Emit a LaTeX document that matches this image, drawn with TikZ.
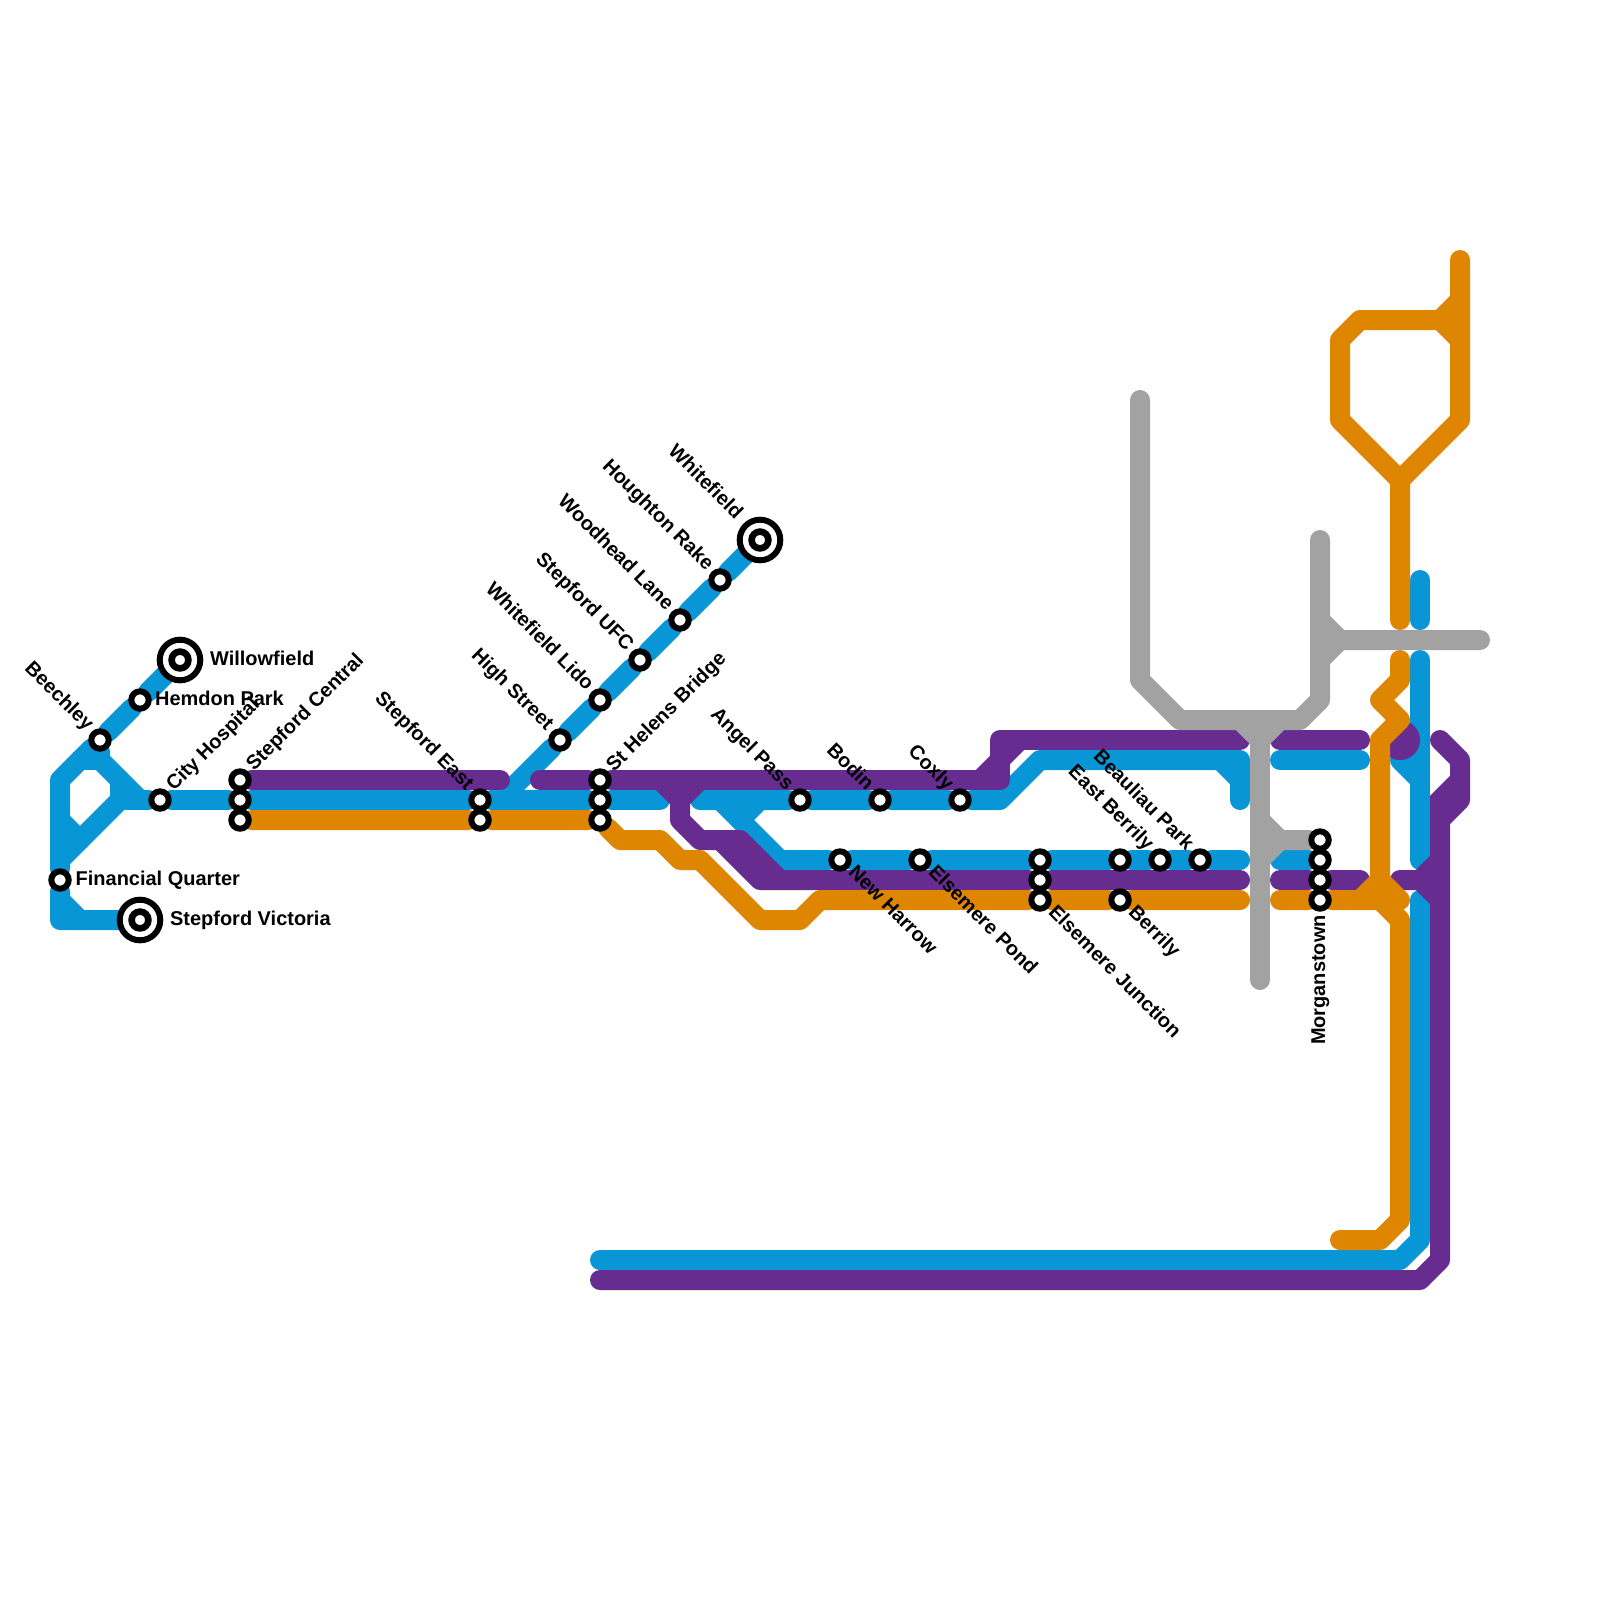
\documentclass[tikz,border=0pt]{standalone}
\usepackage{fontspec}
\setmainfont{Liberation Sans}
\usepackage{xcolor}
\definecolor{linkblue}{HTML}{0896D7}
\definecolor{linkpurple}{HTML}{662C90}
\definecolor{linkorange}{HTML}{DF8600}
\definecolor{linkgrey}{HTML}{A2A2A2}
\usetikzlibrary{backgrounds}

\begin{document}
\begin{tikzpicture}[
  x=1cm, y=-1cm,
  stop/.style={draw=black, fill=white, circle, line width=0.3cm, minimum size=0.87cm, inner sep=0pt},
  terminus/.style={draw=black, fill=white, circle, line width=0.3cm, minimum size=2.03cm, inner sep=0pt},
  core/.style={stop, line width=0.33cm, minimum size=0.84cm},
  railway/.style={line width=1cm, line cap=round, line join=round},
  blueline/.style={railway, linkblue},
  purpleline/.style={railway, linkpurple},
  orangeline/.style={railway, linkorange},
  greyline/.style={railway, linkgrey},
  stopname/.style={font=\fontsize{28.4}{30}\selectfont\bfseries, inner sep=0pt},
  namer/.style={stopname, anchor=base west},
  nameup/.style={stopname, anchor=base west, rotate=45},
  namedown/.style={stopname, anchor=base west, rotate=-45},
  namein/.style={stopname, anchor=base east, rotate=-45},
]
\useasboundingbox (0,0) rectangle (80,80);

% --- Termini ---
\node[terminus] (willowfield_o) at (9,33) {};
\node[core] (willowfield) at (9,33) {};
\node[terminus] (victoria_o) at (7,46) {};
\node[core] (victoria) at (7,46) {};
\node[terminus] (whitefield_o) at (38,27) {};
\node[core] (whitefield) at (38,27) {};

% --- Stations ---
\node[stop] (hemdon) at (7,35) {};
\node[stop] (beechley) at (5,37) {};
\node[stop] (financial) at (3,44) {};
\node[stop] (hospital) at (8,40) {};
\node[stop] (central_a) at (12,39) {};
\node[stop] (central_b) at (12,40) {};
\node[stop] (central_c) at (12,41) {};
\node[stop] (east_a) at (24,40) {};
\node[stop] (east_b) at (24,41) {};
\node[stop] (high) at (28,37) {};
\node[stop] (lido) at (30,35) {};
\node[stop] (ufc) at (32,33) {};
\node[stop] (woodhead) at (34,31) {};
\node[stop] (houghton) at (36,29) {};
\node[stop] (helens_a) at (30,39) {};
\node[stop] (helens_b) at (30,40) {};
\node[stop] (helens_c) at (30,41) {};
\node[stop] (angel) at (40,40) {};
\node[stop] (bodin) at (44,40) {};
\node[stop] (coxly) at (48,40) {};
\node[stop] (harrow) at (42,43) {};
\node[stop] (pond) at (46,43) {};
\node[stop] (junction_a) at (52,43) {};
\node[stop] (junction_b) at (52,44) {};
\node[stop] (junction_c) at (52,45) {};
\node[stop] (berrily_n) at (56,43) {};
\node[stop] (berrily) at (56,45) {};
\node[stop] (eastberrily) at (58,43) {};
\node[stop] (beauliau) at (60,43) {};
\node[stop] (morgan_a) at (66,42) {};
\node[stop] (morgan_b) at (66,43) {};
\node[stop] (morgan_c) at (66,44) {};
\node[stop] (morgan_d) at (66,45) {};

% --- Names ---
\node[namer] (l_willowfield) at (10.5,33.25) {Willowfield};
\node[namer] (l_hemdon) at (7.75,35.25) {Hemdon Park};
\node[namer] (l_financial) at (3.78,44.25) {Financial Quarter};
\node[namer] (l_victoria) at (8.5,46.25) {Stepford Victoria};
\node[nameup] (l_hospital) at (8.7,39.6) {City Hospital};
\node[nameup] (l_central) at (12.7,38.6) {Stepford Central};
\node[nameup] (l_helens) at (30.7,38.65) {St Helens Bridge};
\node[namedown] (l_harrow) at (42.38,43.67) {New Harrow};
\node[namedown] (l_pond) at (46.38,43.67) {Elsemere Pond};
\node[namedown] (l_junction) at (52.38,45.67) {Elsemere Junction};
\node[namedown] (l_berrily) at (56.38,45.67) {Berrily};
\node[namein] (l_beechley) at (4.3,36.57) {Beechley};
\node[namein] (l_east) at (23.3,39.57) {Stepford East};
\node[namein] (l_high) at (27.3,36.57) {High Street};
\node[namein] (l_lido) at (29.3,34.57) {Whitefield Lido};
\node[namein] (l_ufc) at (31.3,32.57) {Stepford UFC};
\node[namein] (l_woodhead) at (33.3,30.57) {Woodhead Lane};
\node[namein] (l_houghton) at (35.3,28.57) {Houghton Rake};
\node[namein] (l_whitefield) at (36.75,26) {Whitefield};
\node[namein] (l_angel) at (39.3,39.57) {Angel Pass};
\node[namein] (l_bodin) at (43.3,39.57) {Bodin};
\node[namein] (l_coxly) at (47.3,39.57) {Coxly};
\node[namein] (l_eastberrily) at (57.3,42.57) {East Berrily};
\node[namein] (l_beauliau) at (59.3,42.57) {Beauliau Park};
\node[stopname, anchor=base east, rotate=90] (l_morgan) at (66.25,45.75) {Morganstown};

\begin{scope}[on background layer]
% --- Blue ---
\draw[blueline] (willowfield) -- (hemdon) -- (beechley) -- (3,39) -- (financial) -- (3,46) -- (victoria);
\draw[blueline] (beechley) -- (5,38) -- (7,40);
\draw[blueline] (4,38) -- (5,38);
\draw[blueline] (6,39) -- (6,40) -- (3,43);
\draw[blueline] (3,41) -- (4,42);
\draw[blueline] (3,45) -- (4,46);
\draw[blueline] (6,40) -- (hospital) -- (central_b) -- (east_a) -- (helens_b) -- (33,40);
\draw[blueline] (whitefield) -- (houghton) -- (woodhead) -- (ufc) -- (lido) -- (high) -- (25,40);
\draw[blueline] (35,40) -- (angel) -- (bodin) -- (coxly) -- (50,40) -- (52,38) -- (62,38) -- (62,40);
\draw[blueline] (61,38) -- (62,39);
\draw[blueline] (36,40) -- (39,43) -- (harrow) -- (pond) -- (junction_a) -- (berrily_n) -- (eastberrily) -- (beauliau) -- (62,43);
\draw[blueline] (38,40) -- (37,41);
\draw[blueline] (64,38) -- (68,38);
\draw[blueline] (64,43) -- (morgan_b);
\draw[blueline] (71,29) -- (71,31);
\draw[blueline] (71,33) -- (71,43);
\draw[blueline] (70,38) -- (71,39);
\draw[blueline] (71,45) -- (71,62) -- (70,63) -- (30,63);

% --- Purple ---
\draw[purpleline] (central_a) -- (25,39);
\draw[purpleline] (27,39) -- (helens_a) -- (50,39) -- (50,37) -- (62,37);
\draw[purpleline] (49,39) -- (51,37);
\draw[purpleline] (33,39) -- (34,40) -- (35,39);
\draw[purpleline] (34,40) -- (34,41) -- (35,42) -- (36,42) -- (38,44) -- (junction_b) -- (62,44);
\draw[purpleline] (36,42) -- (37,42) -- (39,44);
\draw[purpleline] (64,37) -- (68,37);
\draw[purpleline] (64,44) -- (morgan_c) -- (68,44);
\draw[purpleline] (70,44) -- (71,44) -- (72,43);
\draw[purpleline] (71,44) -- (72,45);
\draw[purpleline] (72,37) -- (73,38) -- (73,40) -- (72,41) -- (72,63) -- (71,64) -- (30,64);
\draw[purpleline, line join=miter] (73,39) -- (72,40) -- (72,41);
\fill[linkpurple] (70,37) circle (1);

% --- Orange ---
\draw[orangeline] (central_c) -- (east_b) -- (helens_c) -- (31,42) -- (33,42) -- (34,43) -- (35,43) -- (38,46) -- (40,46) -- (41,45) -- (junction_c) -- (berrily) -- (62,45);
\draw[orangeline] (64,45) -- (morgan_d) -- (69,45) -- (70,46) -- (70,61) -- (69,62) -- (67,62);
\draw[orangeline] (68,45) -- (69,44) -- (70,45);
\draw[orangeline] (69,44) -- (69,37) -- (70,36) -- (69,35) -- (70,34) -- (70,33);
\draw[orangeline] (70,31) -- (70,24) -- (73,21) -- (73,13);
\draw[orangeline] (70,24) -- (67,21) -- (67,17) -- (68,16) -- (72,16) -- (73,15);
\draw[orangeline] (72,16) -- (73,17);

% --- Grey ---
\draw[greyline] (57,20) -- (57,34) -- (59,36) -- (65,36) -- (66,35) -- (66,27);
\draw[greyline] (66,31) -- (67,32) -- (74,32);
\draw[greyline] (67,32) -- (66,33);
\draw[greyline] (62,36) -- (63,37) -- (64,36);
\draw[greyline] (63,37) -- (63,49);
\draw[greyline] (63,41) -- (64,42) -- (morgan_a);
\draw[greyline] (64,42) -- (63,43);
\end{scope}
\end{tikzpicture}
\end{document}
